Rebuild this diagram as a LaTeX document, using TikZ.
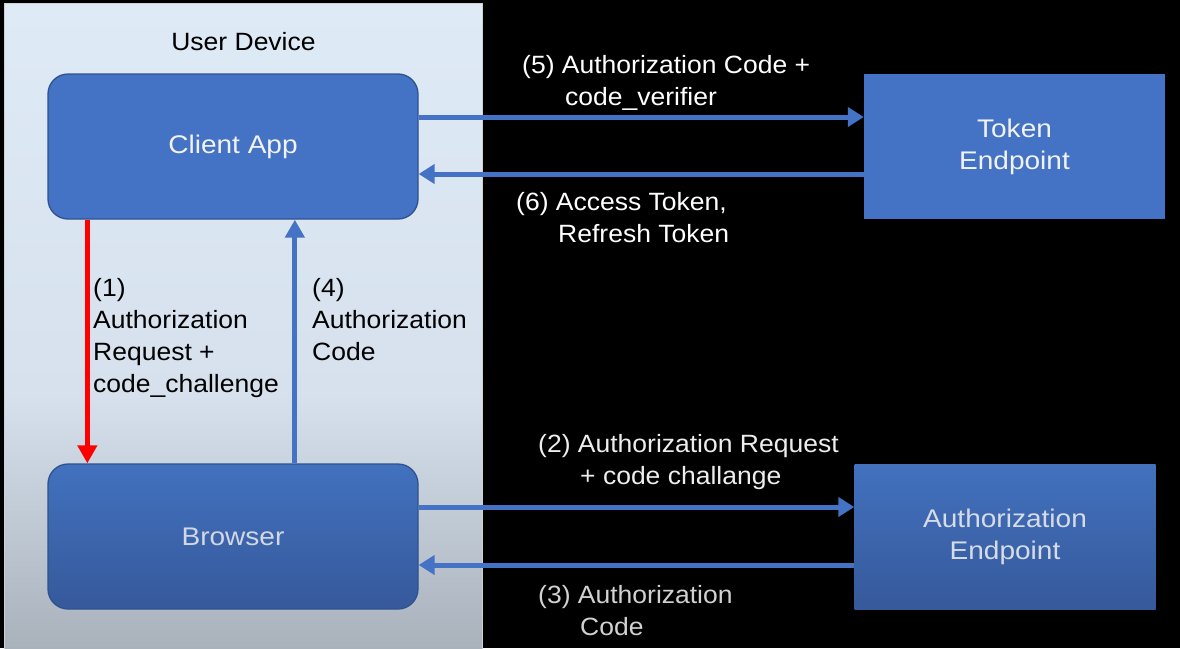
\documentclass[tikz,border=0pt]{standalone}
\usepackage{fontspec}
\setmainfont{Liberation Sans}
\newfontfamily\lblfont{Liberation Sans}[FakeStretch=1.06]
\newfontfamily\boxfont{Liberation Sans}[FakeStretch=1.1]
\usetikzlibrary{arrows.meta}
\definecolor{bluebox}{HTML}{4472C4}
\definecolor{boxline}{HTML}{2F528F}
\definecolor{btop}{HTML}{4271BE}
\definecolor{bbot}{HTML}{36599B}
\definecolor{ptop}{HTML}{DEEAF6}
\definecolor{pmid}{HTML}{D6E1ED}
\definecolor{pbot}{HTML}{A8B0BA}
\definecolor{redarrow}{HTML}{FF0000}
\definecolor{graytext}{HTML}{D2D8E3}
\pgfdeclareverticalshading{panelshade}{100bp}{color(0bp)=(pbot); color(25bp)=(pbot); color(45bp)=(pmid); color(75bp)=(ptop); color(100bp)=(ptop)}
\begin{document}
\begin{tikzpicture}[x=1pt,y=-1pt,
  panel/.style={shading=panelshade, draw=ptop!60!black!40, line width=0.8pt, rectangle, inner sep=0pt, anchor=north west},
  appbox/.style={rectangle, rounded corners=20pt, draw=boxline, line width=1.3pt, minimum width=370pt, minimum height=145pt, inner sep=0pt, font=\boxfont\fontsize{25.5}{32}\selectfont, align=center},
  endbox/.style={rectangle, minimum width=301pt, minimum height=145pt, inner sep=0pt, font=\boxfont\fontsize{25.5}{32}\selectfont, align=center},
  flatfill/.style={fill=bluebox, text=white!95!black},
  gradfill/.style={top color=btop, bottom color=bbot, text=graytext},
  lbl/.style={inner sep=0pt, anchor=base west, font=\lblfont\fontsize{25}{32}\selectfont},
  flow/.style={draw=bluebox, line width=5pt, -{Triangle[length=16pt,width=19pt]}},
  redflow/.style={draw=redarrow, line width=5pt, -{Triangle[length=18pt,width=19pt]}}
]
\useasboundingbox (0,0) rectangle (1180,648);
\fill[black] (0,0) rectangle (1180,648);
\node[panel, minimum width=478pt, minimum height=652pt] (device) at (4,3) {};
\node[inner sep=0pt, font=\lblfont\fontsize{25}{32}\selectfont] (devlabel) at (243.5,42) {User Device};

\node[appbox, flatfill] (client) at (233,146.5) {Client App};
\node[appbox, gradfill] (browser) at (233,536.5) {Browser};
\node[endbox, flatfill] (token) at (1014.5,146.5) {Token\\Endpoint};
\node[endbox, gradfill, text=graytext!90!white] (authep) at (1005,536.5) {Authorization\\Endpoint};

\draw[flow] ([yshift=29.5pt]client.east) -- ([yshift=29.5pt]token.west);
\draw[flow] ([yshift=-27.5pt]token.west) -- ([yshift=-27.5pt]client.east);
\draw[flow] ([yshift=29.5pt]browser.east) -- ([yshift=29.5pt]authep.west);
\draw[flow] ([yshift=-28.5pt]authep.west) -- ([yshift=-28.5pt]browser.east);
\draw[redflow] ([xshift=40pt]client.south west) -- ([xshift=40pt]browser.north west);
\draw[flow, -{Triangle[length=18pt,width=19pt]}] ([xshift=247.5pt]browser.north west) -- ([xshift=247.5pt]client.south west);

\node[lbl, text=white] (l5) at (522,73) {\begin{tabular}[t]{@{}l@{}}(5) Authorization Code +\\\hspace*{43pt}code\_verifier\end{tabular}};
\node[lbl, text=white] (l6) at (516,210) {\begin{tabular}[t]{@{}l@{}}(6) Access Token,\\\hspace*{42pt}Refresh Token\end{tabular}};
\node[lbl, text=white!93!black] (l2) at (538,452) {\begin{tabular}[t]{@{}l@{}}(2) Authorization Request\\\hspace*{42pt}+ code challange\end{tabular}};
\node[lbl, text=white!82!black] (l3) at (538,603) {\begin{tabular}[t]{@{}l@{}}(3) Authorization\\\hspace*{42pt}Code\end{tabular}};
\node[lbl, text=black] (l1) at (93,296) {\begin{tabular}[t]{@{}l@{}}(1)\\Authorization\\Request +\\code\_challenge\end{tabular}};
\node[lbl, text=black] (l4) at (312,296) {\begin{tabular}[t]{@{}l@{}}(4)\\Authorization\\Code\end{tabular}};
\end{tikzpicture}
\end{document}
